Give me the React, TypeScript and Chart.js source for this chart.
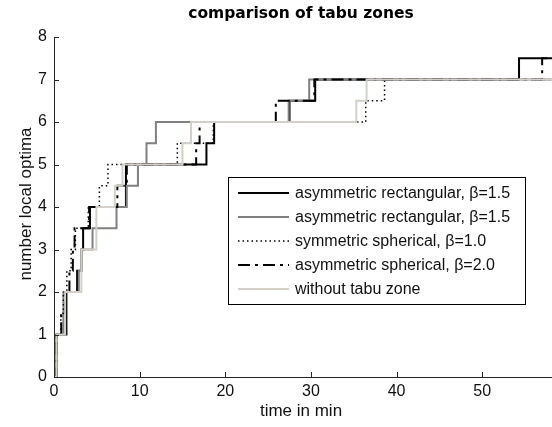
import React, { useEffect, useRef } from 'react';
import { Chart, registerables } from 'chart.js';

Chart.register(...registerables);

// ---- data ----
const chartTitle = 'comparison of tabu zones';
const xAxisLabel = 'time in min';
const yAxisLabel = 'number local optima';
const xTickValues = [0, 10, 20, 30, 40, 50];
const yTickValues = [0, 1, 2, 3, 4, 5, 6, 7, 8];
const xMax = 58.15;
const yMax = 8;

const seriesLabels = [
  'asymmetric rectangular, \u03B2=1.5',
  'asymmetric rectangular, \u03B2=1.5',
  'symmetric spherical, \u03B2=1.0',
  'asymmetric spherical, \u03B2=2.0',
  'without tabu zone',
];

// each point = (time of jump, new number of local optima)
const blackTimes = [0, 0.3, 1.45, 2.7, 3.2, 3.4, 4.2, 8.4, 17.8, 18.7, 27.5, 30.5, 54.3, 58.15];
const blackValues = [0, 1, 2, 2.5, 3, 3.5, 4, 5, 5.5, 6, 6.5, 7, 7.5, 7.5];

const grayTimes = [0, 0.3, 1.1, 2.9, 3.2, 4.5, 7.3, 8.5, 9.8, 10.8, 11.9, 27.4, 29.8, 58.15];
const grayValues = [0, 1, 2, 2.5, 3, 3.5, 4, 4.5, 5, 5.5, 6, 6.5, 7, 7];

const dottedTimes = [0, 0.3, 0.8, 1.1, 1.5, 2.0, 2.5, 4.0, 5.3, 6.3, 14.4, 18.6, 36.4, 38.6, 58.15];
const dottedValues = [0, 1, 1.5, 2, 2.5, 3, 3.5, 4, 4.5, 5, 5.5, 6, 6.5, 7, 7];

const dashDotTimes = [0, 0.3, 0.85, 1.3, 1.8, 2.2, 2.4, 4.1, 7.4, 8.5, 16.6, 17.0, 25.9, 30.4, 57.0, 58.15];
const dashDotValues = [0, 1, 1.5, 2, 2.5, 3, 3.5, 4, 4.5, 5, 5.5, 6, 6.5, 7, 7.5, 7.5];

const lightTimes = [0, 0.3, 1.3, 3.2, 4.95, 7.1, 8.0, 15.0, 16.0, 35.3, 36.5, 58.15];
const lightValues = [0, 1, 2, 3, 4, 4.5, 5, 5.5, 6, 6.5, 7, 7];

// ---- styles ----
const AXIS_COLOR = '#262626';
const TEXT_COLOR = '#111111';
const FONT = '"Liberation Sans", Arial, sans-serif';

const toPoints = (xs: number[], ys: number[]) => xs.map((x, i) => ({ x, y: ys[i] }));

const overlayPlugin = {
  id: 'overlay',
  afterDraw(chart: any) {
    const { ctx, chartArea, scales } = chart;
    const xs = scales.x;
    const ys = scales.y;
    ctx.save();
    // inward tick marks
    ctx.strokeStyle = AXIS_COLOR;
    ctx.lineWidth = 1;
    ctx.setLineDash([]);
    xs.ticks.forEach((t: any) => {
      const px = Math.round(xs.getPixelForValue(t.value)) + 0.5;
      ctx.beginPath();
      ctx.moveTo(px, chartArea.bottom);
      ctx.lineTo(px, chartArea.bottom - 5);
      ctx.stroke();
    });
    ys.ticks.forEach((t: any) => {
      const py = Math.round(ys.getPixelForValue(t.value)) + 0.5;
      ctx.beginPath();
      ctx.moveTo(chartArea.left, py);
      ctx.lineTo(chartArea.left + 5, py);
      ctx.stroke();
    });

    const cx = (chartArea.left + chartArea.right) / 2;
    ctx.fillStyle = '#000';
    ctx.textAlign = 'center';
    ctx.textBaseline = 'alphabetic';
    ctx.font = 'bold 15.5px "DejaVu Sans", Verdana, sans-serif';
    ctx.fillText(chartTitle, cx - 2, 18);

    ctx.fillStyle = TEXT_COLOR;
    ctx.font = `17px ${FONT}`;
    ctx.fillText(xAxisLabel, cx - 2, 416);

    ctx.save();
    ctx.translate(31, (chartArea.top + chartArea.bottom) / 2 - 3);
    ctx.rotate(-Math.PI / 2);
    ctx.fillText(yAxisLabel, 0, 0);
    ctx.restore();

    // legend box
    const bx = 228.5, by = 177.5, bw = 297, bh = 127;
    ctx.fillStyle = '#ffffff';
    ctx.fillRect(bx, by, bw, bh);
    ctx.strokeStyle = '#000';
    ctx.lineWidth = 1;
    ctx.strokeRect(bx, by, bw, bh);
    ctx.textAlign = 'left';
    ctx.textBaseline = 'middle';
    ctx.font = `16px ${FONT}`;
    chart.data.datasets.forEach((ds: any, i: number) => {
      const ry = 193 + i * 24;
      ctx.save();
      ctx.strokeStyle = ds.borderColor;
      ctx.lineWidth = ds.borderWidth;
      ctx.setLineDash(ds.borderDash || []);
      ctx.beginPath();
      ctx.moveTo(238, ry);
      ctx.lineTo(289, ry);
      ctx.stroke();
      ctx.restore();
      ctx.fillStyle = TEXT_COLOR;
      ctx.fillText(ds.label, 295, ry + 1);
    });
    ctx.restore();
  },
};

export default function App() {
  const canvasRef = useRef<HTMLCanvasElement | null>(null);

  useEffect(() => {
    document.body.style.margin = '0';
    const canvas = canvasRef.current;
    if (!canvas) return;
    const common = {
      pointRadius: 0,
      pointHoverRadius: 0,
      stepped: 'before' as const,
      tension: 0,
      fill: false,
      borderCapStyle: 'butt' as const,
      borderJoinStyle: 'miter' as const,
    };
    const chart = new Chart(canvas, {
      type: 'line',
      data: {
        datasets: [
          { ...common, label: seriesLabels[0], data: toPoints(blackTimes, blackValues), borderColor: '#000000', borderWidth: 2, order: 4 },
          { ...common, label: seriesLabels[1], data: toPoints(grayTimes, grayValues), borderColor: '#808080', borderWidth: 2, order: 3 },
          { ...common, label: seriesLabels[2], data: toPoints(dottedTimes, dottedValues), borderColor: '#000000', borderWidth: 1.5, borderDash: [1.5, 3], order: 2 },
          { ...common, label: seriesLabels[3], data: toPoints(dashDotTimes, dashDotValues), borderColor: '#000000', borderWidth: 2, borderDash: [12, 5, 3, 5], order: 1 },
          { ...common, label: seriesLabels[4], data: toPoints(lightTimes, lightValues), borderColor: '#d4d0c8', borderWidth: 2, order: 0 },
        ],
      },
      options: {
        animation: false,
        responsive: true,
        maintainAspectRatio: false,
        layout: { padding: { top: 37, right: 0, bottom: 0, left: 0 } },
        plugins: {
          legend: { display: false },
          title: { display: false },
          tooltip: { enabled: false },
        },
        scales: {
          x: {
            type: 'linear',
            min: 0,
            max: xMax,
            grid: { display: false, drawTicks: false },
            border: { display: true, color: AXIS_COLOR, width: 1 },
            ticks: { font: { family: FONT, size: 16 }, color: TEXT_COLOR, padding: 5, maxRotation: 0, autoSkip: false },
            afterBuildTicks: (s: any) => { s.ticks = xTickValues.map((v) => ({ value: v })); },
            afterFit: (s: any) => { s.height = 50; },
          },
          y: {
            type: 'linear',
            min: 0,
            max: yMax,
            grid: { display: false, drawTicks: false },
            border: { display: true, color: AXIS_COLOR, width: 1 },
            ticks: { font: { family: FONT, size: 16 }, color: TEXT_COLOR, padding: 7, autoSkip: false },
            afterBuildTicks: (s: any) => { s.ticks = yTickValues.map((v) => ({ value: v })); },
            afterFit: (s: any) => { s.width = 54; },
          },
        },
      },
      plugins: [overlayPlugin],
    });
    return () => chart.destroy();
  }, []);

  return (
    <div style={{ position: 'absolute', left: 0, top: 0, width: 552, height: 427, background: '#fff' }}>
      <canvas ref={canvasRef} />
    </div>
  );
}
